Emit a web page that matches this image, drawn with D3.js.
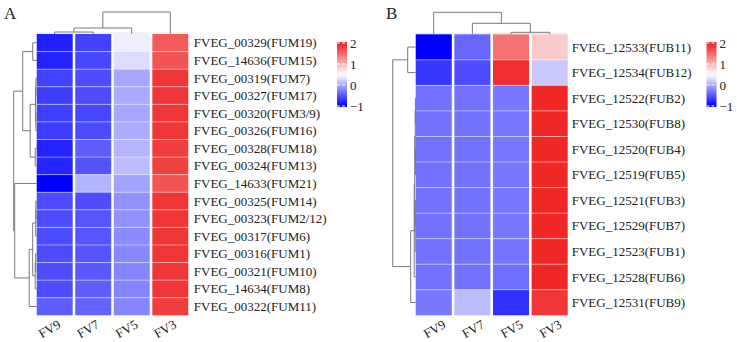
<!DOCTYPE html>
<html>
<head>
<meta charset="utf-8">
<script src="https://cdn.jsdelivr.net/npm/d3@7"></script>
<style>
  body { margin: 0; background: #fff; }
  text { font-family: "Liberation Serif", "Times New Roman", serif; fill: #222; }
</style>
</head>
<body>
<div id="myDiv"></div>
<script>
/* Deux heatmaps (clusters FUM et FUB) */

var colonnesA = ["FV9", "FV7", "FV5", "FV3"];
var genesA = ["FVEG_00329(FUM19)", "FVEG_14636(FUM15)", "FVEG_00319(FUM7)", "FVEG_00327(FUM17)",
  "FVEG_00320(FUM3/9)", "FVEG_00326(FUM16)", "FVEG_00328(FUM18)", "FVEG_00324(FUM13)",
  "FVEG_14633(FUM21)", "FVEG_00325(FUM14)", "FVEG_00323(FUM2/12)", "FVEG_00317(FUM6)",
  "FVEG_00316(FUM1)", "FVEG_00321(FUM10)", "FVEG_14634(FUM8)", "FVEG_00322(FUM11)"];
var valeursA = [
  [-0.82, -0.62, 0.40, 1.60],
  [-0.80, -0.58, 0.30, 1.65],
  [-0.62, -0.55, -0.02, 1.85],
  [-0.64, -0.56, 0.00, 1.85],
  [-0.63, -0.58, -0.02, 1.85],
  [-0.64, -0.56, 0.02, 1.85],
  [-0.80, -0.45, 0.06, 1.80],
  [-0.78, -0.52, 0.12, 1.78],
  [-1.00, 0.05, -0.05, 1.65],
  [-0.55, -0.55, -0.15, 1.85],
  [-0.55, -0.50, -0.15, 1.85],
  [-0.56, -0.50, -0.18, 1.85],
  [-0.55, -0.50, -0.20, 1.85],
  [-0.55, -0.48, -0.22, 1.85],
  [-0.55, -0.45, -0.22, 1.85],
  [-0.45, -0.42, -0.22, 1.80]];

var colonnesB = ["FV9", "FV7", "FV5", "FV3"];
var genesB = ["FVEG_12533(FUB11)", "FVEG_12534(FUB12)", "FVEG_12522(FUB2)", "FVEG_12530(FUB8)",
  "FVEG_12520(FUB4)", "FVEG_12519(FUB5)", "FVEG_12521(FUB3)", "FVEG_12529(FUB7)",
  "FVEG_12523(FUB1)", "FVEG_12528(FUB6)", "FVEG_12531(FUB9)"];
var valeursB = [
  [-1.00, -0.40, 1.45, 0.85],
  [-0.68, -0.55, 1.90, 0.18],
  [-0.33, -0.33, -0.30, 1.95],
  [-0.33, -0.33, -0.30, 1.95],
  [-0.33, -0.33, -0.30, 1.95],
  [-0.33, -0.33, -0.30, 1.95],
  [-0.33, -0.33, -0.30, 1.95],
  [-0.33, -0.33, -0.30, 1.95],
  [-0.33, -0.33, -0.31, 1.95],
  [-0.33, -0.33, -0.35, 1.95],
  [-0.30, 0.10, -0.72, 1.85]];

// arbres : [hauteur, gauche, droite], feuille = index
var arbreLignesA = [23, [14, [4, 0, 1], [6.5, [1.2, [0.8, 2, 3], [0.8, 4, 5]], [1.5, 6, 7]]],
  [22, 8, [7.5, [4, [1, [0.8, 9, 10], 11], [1.5, [1, 12, 13], 14]], 15]]];
var arbreColonnesA = [22, [6, [2, 0, 1], 2], 3];
var arbreLignesB = [23, [8, 0, 1], [5, [1.5, [1, [0.5, [0.3, 2, 3], [0.3, 4, 5]], [0.5, [0.3, 6, 7], 8]], 9], 10]];
var arbreColonnesB = [22, 0, [11, 1, [2, 2, 3]]];

var legendeTicks = [-1, 0, 1, 2];

var color = d3.scaleLinear().domain([-1, 0.5, 2]).range(["#0000ff", "#ffffff", "#ee2020"]).clamp(true);

var svg = d3.select("#myDiv").append("svg")
  .attr("width", 737).attr("height", 342);

function arbre(g, data, pos, haut, orient) {
  var racine = d3.hierarchy(data, function(d) { return Array.isArray(d) ? d.slice(1) : null; });
  racine.eachAfter(function(n) {
    if (!n.children) { n.p = pos(n.data); n.h = 0; }
    else { n.p = d3.mean(n.children, function(c) { return c.p; }); n.h = n.data[0]; }
  });
  g.selectAll("path").data(racine.descendants().filter(function(n) { return n.children; }))
    .enter().append("path")
    .attr("fill", "none").attr("stroke", "#7a7a7a").attr("stroke-width", 1)
    .attr("d", function(n) {
      var a = n.children[0], b = n.children[1];
      if (orient == "lignes")
        return "M" + haut(a.h) + "," + a.p + "H" + haut(n.h) + "V" + b.p + "H" + haut(b.h);
      return "M" + a.p + "," + haut(a.h) + "V" + haut(n.h) + "H" + b.p + "V" + haut(b.h);
    });
}

function heatmap(o) {
  var g = svg.append("g");
  var x = d3.scaleBand().domain(d3.range(o.cols.length)).range([o.x0, o.x1]).paddingInner(0.066);
  var y = d3.scaleBand().domain(d3.range(o.genes.length)).range([o.y0, o.y1]);

  var cells = [];
  o.vals.forEach(function(r, i) { r.forEach(function(v, j) { cells.push({ i: i, j: j, v: v }); }); });
  g.selectAll(".cell").data(cells).enter().append("rect")
    .attr("class", "cell")
    .attr("x", function(d) { return x(d.j); })
    .attr("y", function(d) { return y(d.i); })
    .attr("width", x.bandwidth())
    .attr("height", y.bandwidth())
    .attr("fill", function(d) { return color(d.v); });

  // lignes claires entre les rangées
  g.selectAll(".sep").data(d3.range(1, o.genes.length)).enter().append("line")
    .attr("x1", o.x0).attr("x2", o.x1)
    .attr("y1", function(i) { return y(i); }).attr("y2", function(i) { return y(i); })
    .attr("stroke", "#fff").attr("stroke-opacity", 0.45).attr("stroke-width", 1);

  g.append("line").attr("x1", o.x0).attr("x2", o.x1).attr("y1", o.y0 - 1).attr("y2", o.y0 - 1)
    .attr("stroke", "#ccc").attr("stroke-dasharray", "1,1");

  g.selectAll(".lab").data(o.genes).enter().append("text")
    .attr("x", o.x1 + o.dxLab)
    .attr("y", function(d, i) { return y(i) + y.bandwidth() / 2; })
    .attr("dy", "0.35em")
    .style("font-size", "13px")
    .text(function(d) { return d; });

  g.selectAll(".col").data(o.cols).enter().append("text")
    .attr("text-anchor", "end")
    .attr("transform", function(d, j) {
      return "translate(" + (x(j) + x.bandwidth() / 2 + o.dxCol) + ",327) rotate(-30)";
    })
    .style("font-size", "13px")
    .text(function(d) { return d; });

  arbre(g.append("g"), o.arbreL, function(i) { return y(i) + y.bandwidth() / 2; },
    d3.scaleLinear().domain([0, 23]).range([o.x0, o.x0 - 23]), "lignes");
  arbre(g.append("g"), o.arbreC, function(j) { return x(j) + x.bandwidth() / 2; },
    d3.scaleLinear().domain([0, 22]).range([o.y0, o.y0 - 22]), "colonnes");

  // légende
  var ly = d3.scaleLinear().domain([-1, 2]).range([106, 43]);
  var gid = "grad" + o.nom;
  var grad = svg.append("defs").append("linearGradient").attr("id", gid)
    .attr("x1", 0).attr("y1", 1).attr("x2", 0).attr("y2", 0);
  grad.selectAll("stop").data(d3.range(-1.05, 2.06, 0.15)).enter().append("stop")
    .attr("offset", function(v) { return (v + 1.05) / 3.1; })
    .attr("stop-color", function(v) { return color(v); });
  g.append("rect").attr("x", o.lx).attr("y", ly(2.05)).attr("width", 10)
    .attr("height", ly(-1.05) - ly(2.05)).attr("fill", "url(#" + gid + ")");
  g.selectAll(".tk").data(legendeTicks).enter().append("line")
    .attr("x1", o.lx).attr("x2", o.lx + 10)
    .attr("y1", function(v) { return ly(v); }).attr("y2", function(v) { return ly(v); })
    .attr("stroke", "#fff").attr("stroke-dasharray", "3,2").attr("stroke-width", 1);
  g.selectAll(".tl").data(legendeTicks).enter().append("text")
    .attr("x", o.lx + 13).attr("y", function(v) { return ly(v); }).attr("dy", "0.35em")
    .style("font-size", "13px")
    .text(function(v) { return v < 0 ? "\u2212" + Math.abs(v) : v; });

  svg.append("text").attr("x", o.lettreX).attr("y", 19).style("font-size", "17px").text(o.nom);
}

heatmap({ nom: "A", cols: colonnesA, genes: genesA, vals: valeursA, x0: 36.7, x1: 188.3, y0: 34, y1: 315.3,
  dxLab: 5.5, dxCol: 7, arbreL: arbreLignesA, arbreC: arbreColonnesA, lx: 337, lettreX: 4 });
heatmap({ nom: "B", cols: colonnesB, genes: genesB, vals: valeursB, x0: 415.7, x1: 567.7, y0: 34.3, y1: 315.3,
  dxLab: 4, dxCol: 13, arbreL: arbreLignesB, arbreC: arbreColonnesB, lx: 706.5, lettreX: 386 });
</script>
</body>
</html>
